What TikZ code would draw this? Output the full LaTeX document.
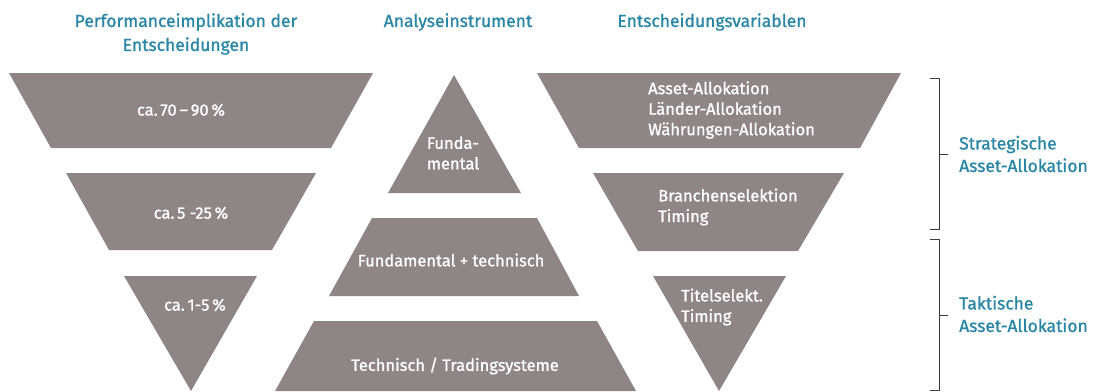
\documentclass[tikz,border=0pt]{standalone}
\usepackage{fontspec}
\setmainfont{Fira Sans}[FakeBold=1.2]
\definecolor{shapegray}{HTML}{8F8585}
\definecolor{headteal}{HTML}{2B87A6}
\definecolor{bracegray}{HTML}{3A3A3A}
\tikzset{
  funnel/.style={fill=shapegray, draw=none},
  intext/.style={text=white, font=\fontsize{16.5}{20.5}\selectfont, inner sep=0pt},
  head/.style={text=headteal, font=\fontsize{17.5}{24}\selectfont, inner sep=0pt, align=center},
  sidelabel/.style={text=headteal, font=\fontsize{17.5}{22.5}\selectfont, inner sep=0pt, align=left, anchor=west},
  bracket/.style={draw=bracegray, line width=1pt}
}
\begin{document}
\begin{tikzpicture}[x=1pt,y=-1pt]
\useasboundingbox (0,0) rectangle (1095,391);
% left funnel
\fill[funnel] (9,73) -- (373,73) -- (331,148) -- (51,148) -- cycle;
\fill[funnel] (66,173) -- (316,173) -- (272,250) -- (109,250) -- cycle;
\fill[funnel] (124,276) -- (257,276) -- (191,391) -- cycle;
% center pyramid
\fill[funnel] (454,75) -- (521,193) -- (388,193) -- cycle;
\fill[funnel] (372,218) -- (537,218) -- (579,296) -- (329,296) -- cycle;
\fill[funnel] (314,321) -- (597,321) -- (636,391) -- (275,391) -- cycle;
% right funnel
\fill[funnel] (537,73) -- (901,73) -- (860,148) -- (579,148) -- cycle;
\fill[funnel] (593,173) -- (844,173) -- (798,251) -- (638,251) -- cycle;
\fill[funnel] (653,276) -- (786,276) -- (719,391) -- cycle;
% headers
\node[head] (h1) at (186,34) {Performanceimplikation der\\Entscheidungen};
\node[head] (h2) at (458,22) {Analyseinstrument};
\node[head] (h3) at (712,22) {Entscheidungsvariablen};
% left labels
\node[intext] (l1) at (181,110) {ca.\,70\,–\,90\,\%};
\node[intext] (l2) at (191,213) {ca.\,5 -25\,\%};
\node[intext] (l3) at (195,305) {ca.\,1-5\,\%};
% center labels
\node[intext, align=left] (c1) at (453,153) {Funda-\\mental};
\node[intext] (c2) at (451,260) {Fundamental + technisch};
\node[intext] (c3) at (455,366) {Technisch / Tradingsysteme};
% right labels
\node[intext, align=left, anchor=west] (r1) at (648,110) {Asset-Allokation\\Länder-Allokation\\Währungen-Allokation};
\node[intext, align=left, anchor=west] (r2) at (658,207) {Branchenselektion\\Timing};
\node[intext, align=left, anchor=west] (r3) at (681,307) {Titelselekt.\\Timing};
% braces
\draw[bracket] (930,78) -- (939,78) -- (939,229) -- (930,229);
\draw[bracket] (939,154) -- (948,154);
\draw[bracket] (930,239) -- (939,239) -- (939,390) -- (930,390);
\draw[bracket] (939,315) -- (948,315);
\node[sidelabel] (s1) at (959,154) {Strategische\\Asset-Allokation};
\node[sidelabel] (s2) at (959,314) {Taktische\\Asset-Allokation};
\end{tikzpicture}
\end{document}
